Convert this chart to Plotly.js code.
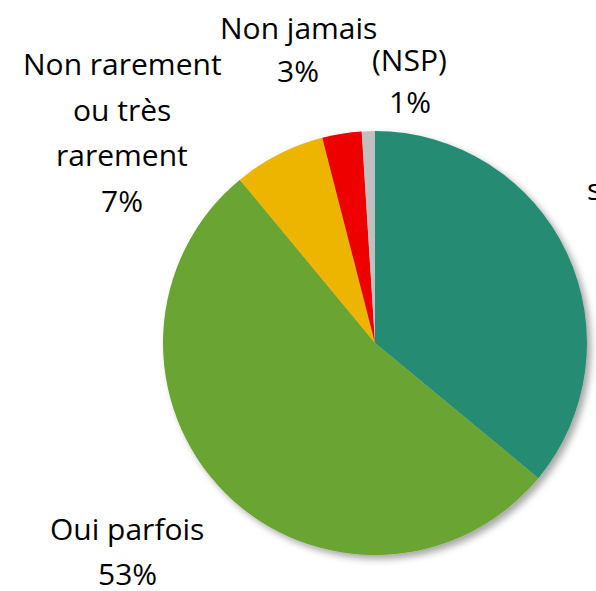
<!DOCTYPE html>
<html>
<head>
<meta charset="utf-8">
<script src="https://cdn.plot.ly/plotly-3.0.1.min.js"></script>
<style>
  html, body { margin: 0; padding: 0; background: #ffffff; }
  #chart { width: 596px; height: 591px; }
</style>
</head>
<body>
<div id="chart"></div>
<script>
// ---- Data ----
const categories = ["Oui\nsouvent", "Oui parfois", "Non rarement\nou très\nrarement", "Non jamais", "(NSP)"];
const values = [36, 53, 7, 3, 1];
const sliceColors = ["#268B73", "#6BA430", "#EDB400", "#EE0000", "#C0C0C0"];

// ---- Label placement (pixel centres of first line, line step) ----
const labelPos = [
  { x: 643, y: 143, step: 45 },
  { x: 127, y: 528, step: 45 },
  { x: 122, y: 64, step: 45.5 },
  { x: 298, y: 27, step: 44 },
  { x: 410, y: 60, step: 41 }
];

const W = 596, H = 591;
const cx = 375, cy = 343, R = 212;

const total = values.reduce((a, b) => a + b, 0);
const annotations = [];
categories.forEach((cat, i) => {
  const pct = Math.round(values[i] / total * 100) + "%";
  const lines = cat.split("\n").concat([pct]);
  lines.forEach((ln, j) => {
    annotations.push({
      text: ln,
      xref: "paper", yref: "paper",
      x: labelPos[i].x / W,
      y: 1 - (labelPos[i].y + j * labelPos[i].step) / H,
      xanchor: "center", yanchor: "middle",
      showarrow: false,
      font: { family: "'Open Sans', sans-serif", size: 30, color: "#000000" }
    });
  });
});

const trace = {
  type: "pie",
  labels: categories.map(c => c.replace(/\n/g, " ")),
  values: values,
  marker: { colors: sliceColors, line: { width: 0 } },
  sort: false,
  direction: "clockwise",
  rotation: 0,
  textinfo: "none",
  hoverinfo: "none",
  showlegend: false,
  domain: {
    x: [(cx - R) / W, (cx + R) / W],
    y: [(H - cy - R) / H, (H - cy + R) / H]
  }
};

const layout = {
  width: W, height: H,
  margin: { l: 0, r: 0, t: 0, b: 0 },
  paper_bgcolor: "#ffffff",
  plot_bgcolor: "#ffffff",
  showlegend: false,
  annotations: annotations
};

Plotly.newPlot("chart", [trace], layout, { displayModeBar: false, staticPlot: true }).then(gd => {
  const svg = gd.querySelector("svg.main-svg");
  const ns = "http://www.w3.org/2000/svg";
  let defs = svg.querySelector("defs");
  if (!defs) { defs = document.createElementNS(ns, "defs"); svg.insertBefore(defs, svg.firstChild); }
  const f = document.createElementNS(ns, "filter");
  f.setAttribute("id", "pieShadow");
  f.setAttribute("x", "-20%"); f.setAttribute("y", "-20%");
  f.setAttribute("width", "140%"); f.setAttribute("height", "140%");
  const ds = document.createElementNS(ns, "feDropShadow");
  ds.setAttribute("dx", "4"); ds.setAttribute("dy", "4");
  ds.setAttribute("stdDeviation", "3.5");
  ds.setAttribute("flood-color", "#000000");
  ds.setAttribute("flood-opacity", "0.35");
  f.appendChild(ds);
  defs.appendChild(f);
  const tr = gd.querySelector(".pielayer .trace");
  if (tr) tr.setAttribute("filter", "url(#pieShadow)");
});
</script>
</body>
</html>
